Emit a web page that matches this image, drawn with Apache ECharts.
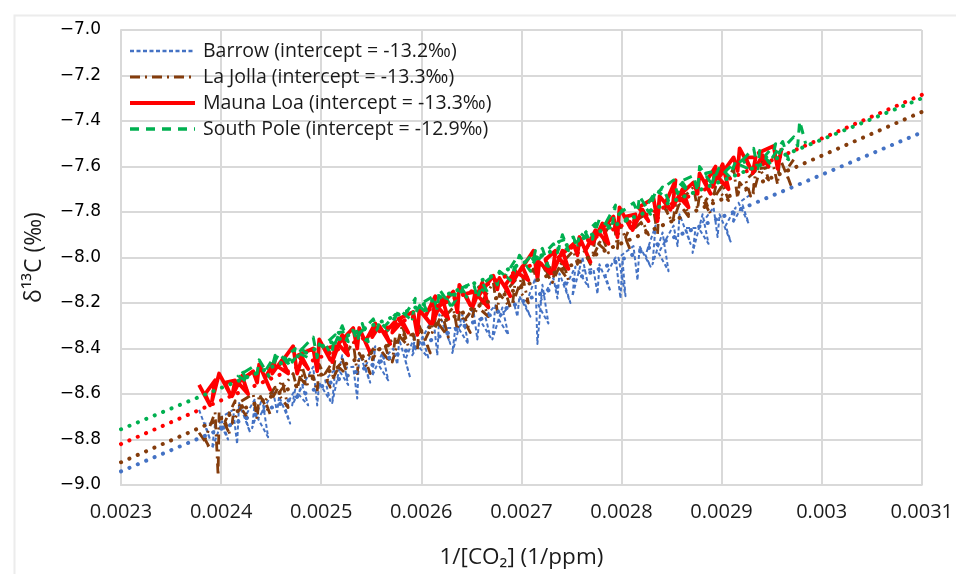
<!DOCTYPE html>
<html>
<head>
<meta charset="utf-8">
<script src="https://cdn.jsdelivr.net/npm/echarts@6/dist/echarts.min.js"></script>
<style>
  html, body { margin: 0; padding: 0; background: #fff; }
  #chart { width: 956px; height: 574px; }
</style>
</head>
<body>
<div id="chart"></div>
<script>
// observations, [1/CO2, d13C]
const barrow = [
  [0.002378,-8.67],[0.002389,-8.80],[0.002384,-8.73],[0.002394,-8.73],[0.002391,-8.84],
  [0.002401,-8.72],[0.002407,-8.80],[0.002397,-8.71],[0.002412,-8.67],[0.002416,-8.82],
  [0.002418,-8.64],[0.002429,-8.77],[0.002424,-8.70],[0.002434,-8.62],[0.002431,-8.75],
  [0.002441,-8.62],[0.002447,-8.79],[0.002437,-8.71],[0.002452,-8.59],[0.002456,-8.68],
  [0.002458,-8.61],[0.002469,-8.73],[0.002464,-8.66],[0.002474,-8.58],[0.002471,-8.65],
  [0.002481,-8.56],[0.002487,-8.65],[0.002477,-8.60],[0.002492,-8.48],[0.002496,-8.65],
  [0.002498,-8.55],[0.002509,-8.63],[0.002504,-8.54],[0.002514,-8.49],[0.002511,-8.64],
  [0.002521,-8.43],[0.002527,-8.56],[0.002517,-8.49],[0.002532,-8.48],[0.002536,-8.62],
  [0.002538,-8.42],[0.002549,-8.55],[0.002544,-8.48],[0.002554,-8.39],[0.002551,-8.52],
  [0.002561,-8.42],[0.002567,-8.54],[0.002557,-8.47],[0.002572,-8.40],[0.002576,-8.47],
  [0.002578,-8.36],[0.002589,-8.53],[0.002584,-8.45],[0.002594,-8.34],[0.002591,-8.43],
  [0.002601,-8.35],[0.002607,-8.44],[0.002597,-8.39],[0.002612,-8.26],[0.002616,-8.43],
  [0.002618,-8.25],[0.002629,-8.38],[0.002624,-8.31],[0.002634,-8.31],[0.002631,-8.42],
  [0.002641,-8.25],[0.002647,-8.38],[0.002637,-8.31],[0.002652,-8.23],[0.002656,-8.36],
  [0.002658,-8.27],[0.002669,-8.35],[0.002664,-8.26],[0.002674,-8.21],[0.002671,-8.36],
  [0.002681,-8.22],[0.002687,-8.34],[0.002677,-8.27],[0.002692,-8.19],[0.002696,-8.26],
  [0.002698,-8.17],[0.002709,-8.26],[0.002704,-8.21],[0.002714,-8.09],[0.002716,-8.38],
  [0.002721,-8.12],[0.002727,-8.29],[0.002717,-8.21],[0.002732,-8.09],[0.002736,-8.18],
  [0.002738,-8.07],[0.002749,-8.20],[0.002744,-8.13],[0.002754,-8.04],[0.002751,-8.17],
  [0.002761,-8.00],[0.002767,-8.13],[0.002757,-8.06],[0.002772,-8.05],[0.002776,-8.16],
  [0.002778,-8.03],[0.002789,-8.15],[0.002784,-8.08],[0.002794,-8.00],[0.002799,-8.18],
  [0.002801,-8.01],[0.002804,-8.17],[0.002797,-8.00],[0.002812,-7.95],[0.002816,-8.10],
  [0.002818,-7.95],[0.002829,-8.04],[0.002824,-7.99],[0.002834,-7.86],[0.002831,-8.03],
  [0.002841,-7.89],[0.002847,-8.06],[0.002837,-7.98],[0.002852,-7.86],[0.002856,-7.95],
  [0.002858,-7.81],[0.002869,-7.94],[0.002864,-7.87],[0.002874,-7.87],[0.002871,-7.98],
  [0.002881,-7.81],[0.002887,-7.94],[0.002877,-7.87],[0.002892,-7.78],[0.002896,-7.91],
  [0.002898,-7.81],[0.002909,-7.93],[0.002904,-7.86],[0.002914,-7.78],[0.002911,-7.85],
  [0.002921,-7.77],[0.002927,-7.85],[0.002917,-7.76],[0.002930,-7.72]
];
const laJolla = [
  [0.002378,-8.77],[0.002389,-8.84],[0.002384,-8.80],[0.002394,-8.68],[0.002397,-8.96],
  [0.002398,-8.68],[0.002409,-8.78],[0.002404,-8.72],[0.002414,-8.63],[0.002411,-8.73],
  [0.002421,-8.65],[0.002427,-8.71],[0.002417,-8.64],[0.002432,-8.60],[0.002436,-8.71],
  [0.002438,-8.60],[0.002449,-8.69],[0.002444,-8.63],[0.002454,-8.57],[0.002451,-8.62],
  [0.002461,-8.54],[0.002467,-8.66],[0.002457,-8.60],[0.002472,-8.51],[0.002476,-8.58],
  [0.002481,-8.48],[0.002487,-8.57],[0.002477,-8.52],[0.002492,-8.52],[0.002496,-8.59],
  [0.002498,-8.47],[0.002509,-8.57],[0.002504,-8.51],[0.002514,-8.44],[0.002511,-8.54],
  [0.002521,-8.45],[0.002527,-8.52],[0.002517,-8.48],[0.002532,-8.37],[0.002536,-8.51],
  [0.002538,-8.42],[0.002549,-8.51],[0.002544,-8.45],[0.002554,-8.39],[0.002551,-8.45],
  [0.002558,-8.40],[0.002569,-8.46],[0.002564,-8.39],[0.002574,-8.35],[0.002571,-8.46],
  [0.002581,-8.30],[0.002587,-8.39],[0.002577,-8.34],[0.002592,-8.34],[0.002596,-8.41],
  [0.002598,-8.30],[0.002609,-8.42],[0.002604,-8.36],[0.002614,-8.27],[0.002611,-8.33],
  [0.002621,-8.25],[0.002627,-8.35],[0.002617,-8.29],[0.002632,-8.22],[0.002636,-8.32],
  [0.002638,-8.24],[0.002649,-8.33],[0.002644,-8.27],[0.002654,-8.21],[0.002651,-8.26],
  [0.002661,-8.19],[0.002667,-8.26],[0.002657,-8.22],[0.002672,-8.11],[0.002676,-8.24],
  [0.002678,-8.16],[0.002689,-8.22],[0.002684,-8.15],[0.002694,-8.10],[0.002691,-8.21],
  [0.002701,-8.08],[0.002707,-8.20],[0.002697,-8.14],[0.002712,-8.05],[0.002716,-8.11],
  [0.002718,-8.01],[0.002729,-8.10],[0.002724,-8.05],[0.002734,-8.04],[0.002731,-8.11],
  [0.002741,-8.01],[0.002747,-8.10],[0.002737,-8.04],[0.002752,-7.97],[0.002756,-8.03],
  [0.002758,-7.93],[0.002769,-8.03],[0.002764,-7.97],[0.002774,-7.90],[0.002771,-8.00],
  [0.002781,-7.91],[0.002787,-7.98],[0.002777,-7.94],[0.002792,-7.83],[0.002796,-7.96],
  [0.002798,-7.85],[0.002809,-7.97],[0.002804,-7.91],[0.002814,-7.82],[0.002811,-7.88],
  [0.002821,-7.84],[0.002827,-7.90],[0.002817,-7.83],[0.002832,-7.79],[0.002836,-7.90],
  [0.002838,-7.74],[0.002849,-7.83],[0.002844,-7.78],[0.002854,-7.77],[0.002851,-7.85],
  [0.002861,-7.72],[0.002867,-7.82],[0.002857,-7.76],[0.002872,-7.69],[0.002876,-7.79],
  [0.002878,-7.72],[0.002889,-7.81],[0.002884,-7.75],[0.002894,-7.69],[0.002891,-7.75],
  [0.002901,-7.68],[0.002907,-7.75],[0.002897,-7.71],[0.002912,-7.61],[0.002916,-7.74],
  [0.002918,-7.67],[0.002929,-7.73],[0.002924,-7.66],[0.002934,-7.62],[0.002931,-7.73],
  [0.002941,-7.57],[0.002947,-7.66],[0.002937,-7.61],[0.002952,-7.60],[0.002956,-7.68],
  [0.002958,-7.56],[0.002969,-7.68],[0.002964,-7.62],[0.002972,-7.57]
];
const maunaLoa = [
  [0.002378,-8.56],[0.002389,-8.65],[0.002384,-8.60],[0.002394,-8.54],[0.002391,-8.63],
  [0.002398,-8.51],[0.002409,-8.60],[0.002404,-8.55],[0.002414,-8.54],[0.002411,-8.61],
  [0.002421,-8.52],[0.002427,-8.60],[0.002417,-8.55],[0.002432,-8.50],[0.002436,-8.55],
  [0.002438,-8.47],[0.002449,-8.58],[0.002444,-8.53],[0.002454,-8.45],[0.002451,-8.51],
  [0.002461,-8.45],[0.002467,-8.51],[0.002457,-8.48],[0.002472,-8.39],[0.002476,-8.51],
  [0.002481,-8.44],[0.002487,-8.49],[0.002477,-8.43],[0.002492,-8.40],[0.002496,-8.50],
  [0.002498,-8.36],[0.002509,-8.45],[0.002504,-8.40],[0.002514,-8.39],[0.002511,-8.46],
  [0.002521,-8.34],[0.002527,-8.43],[0.002517,-8.38],[0.002532,-8.31],[0.002536,-8.40],
  [0.002538,-8.31],[0.002549,-8.42],[0.002544,-8.37],[0.002554,-8.29],[0.002551,-8.35],
  [0.002558,-8.30],[0.002569,-8.38],[0.002564,-8.33],[0.002574,-8.28],[0.002571,-8.33],
  [0.002581,-8.28],[0.002587,-8.33],[0.002577,-8.27],[0.002592,-8.24],[0.002596,-8.34],
  [0.002598,-8.23],[0.002609,-8.29],[0.002604,-8.26],[0.002614,-8.17],[0.002611,-8.29],
  [0.002621,-8.18],[0.002627,-8.27],[0.002617,-8.22],[0.002632,-8.15],[0.002636,-8.24],
  [0.002638,-8.12],[0.002649,-8.21],[0.002644,-8.16],[0.002654,-8.15],[0.002651,-8.22],
  [0.002661,-8.11],[0.002667,-8.22],[0.002657,-8.17],[0.002672,-8.08],[0.002676,-8.14],
  [0.002678,-8.09],[0.002689,-8.17],[0.002684,-8.12],[0.002694,-8.06],[0.002691,-8.11],
  [0.002701,-8.04],[0.002707,-8.10],[0.002697,-8.07],[0.002712,-7.97],[0.002716,-8.09],
  [0.002718,-8.02],[0.002729,-8.07],[0.002724,-8.01],[0.002734,-7.97],[0.002731,-8.07],
  [0.002741,-7.97],[0.002747,-8.05],[0.002737,-8.00],[0.002752,-7.94],[0.002756,-7.99],
  [0.002758,-7.91],[0.002769,-8.02],[0.002764,-7.97],[0.002774,-7.88],[0.002771,-7.94],
  [0.002781,-7.85],[0.002787,-7.94],[0.002777,-7.89],[0.002792,-7.82],[0.002796,-7.91],
  [0.002798,-7.78],[0.002809,-7.87],[0.002804,-7.82],[0.002814,-7.81],[0.002811,-7.88],
  [0.002821,-7.79],[0.002827,-7.84],[0.002817,-7.78],[0.002832,-7.74],[0.002836,-7.84],
  [0.002838,-7.73],[0.002849,-7.79],[0.002844,-7.76],[0.002854,-7.66],[0.002851,-7.78],
  [0.002861,-7.70],[0.002867,-7.78],[0.002857,-7.73],[0.002872,-7.67],[0.002876,-7.72],
  [0.002878,-7.63],[0.002889,-7.72],[0.002884,-7.67],[0.002894,-7.60],[0.002891,-7.69],
  [0.002901,-7.59],[0.002907,-7.70],[0.002897,-7.65],[0.002912,-7.56],[0.002916,-7.62],
  [0.002918,-7.52],[0.002929,-7.61],[0.002924,-7.56],[0.002934,-7.56],[0.002931,-7.63],
  [0.002941,-7.55],[0.002947,-7.60],[0.002937,-7.54],[0.002952,-7.51],[0.002956,-7.61],
  [0.002960,-7.52]
];
const southPole = [
  [0.002421,-8.50],[0.002427,-8.55],[0.002417,-8.52],[0.002432,-8.48],[0.002436,-8.51],
  [0.002438,-8.45],[0.002449,-8.53],[0.002444,-8.50],[0.002454,-8.43],[0.002451,-8.48],
  [0.002458,-8.42],[0.002469,-8.48],[0.002464,-8.44],[0.002474,-8.40],[0.002471,-8.46],
  [0.002481,-8.40],[0.002487,-8.44],[0.002477,-8.42],[0.002492,-8.35],[0.002496,-8.44],
  [0.002498,-8.38],[0.002509,-8.42],[0.002504,-8.38],[0.002514,-8.34],[0.002511,-8.41],
  [0.002521,-8.30],[0.002527,-8.37],[0.002517,-8.33],[0.002532,-8.32],[0.002536,-8.37],
  [0.002541,-8.29],[0.002547,-8.37],[0.002537,-8.34],[0.002552,-8.27],[0.002556,-8.32],
  [0.002558,-8.28],[0.002569,-8.33],[0.002564,-8.30],[0.002574,-8.25],[0.002571,-8.29],
  [0.002578,-8.23],[0.002589,-8.27],[0.002584,-8.25],[0.002594,-8.18],[0.002591,-8.27],
  [0.002601,-8.19],[0.002607,-8.25],[0.002597,-8.21],[0.002612,-8.17],[0.002616,-8.23],
  [0.002618,-8.14],[0.002629,-8.21],[0.002624,-8.17],[0.002634,-8.16],[0.002631,-8.21],
  [0.002641,-8.14],[0.002647,-8.18],[0.002637,-8.14],[0.002652,-8.11],[0.002656,-8.18],
  [0.002661,-8.11],[0.002667,-8.16],[0.002657,-8.13],[0.002672,-8.08],[0.002676,-8.12],
  [0.002678,-8.06],[0.002689,-8.10],[0.002684,-8.08],[0.002694,-8.01],[0.002691,-8.09],
  [0.002698,-7.99],[0.002709,-8.06],[0.002704,-8.02],[0.002714,-7.97],[0.002711,-8.03],
  [0.002721,-7.96],[0.002727,-8.04],[0.002717,-8.01],[0.002732,-7.94],[0.002736,-7.98],
  [0.002741,-7.90],[0.002747,-7.97],[0.002737,-7.93],[0.002752,-7.91],[0.002756,-7.96],
  [0.002758,-7.89],[0.002769,-7.93],[0.002764,-7.89],[0.002774,-7.85],[0.002771,-7.92],
  [0.002778,-7.83],[0.002789,-7.87],[0.002784,-7.85],[0.002794,-7.77],[0.002791,-7.85],
  [0.002801,-7.79],[0.002807,-7.84],[0.002797,-7.81],[0.002812,-7.76],[0.002816,-7.80],
  [0.002818,-7.73],[0.002829,-7.81],[0.002824,-7.78],[0.002834,-7.71],[0.002831,-7.75],
  [0.002841,-7.69],[0.002847,-7.75],[0.002837,-7.71],[0.002852,-7.66],[0.002856,-7.72],
  [0.002861,-7.67],[0.002867,-7.71],[0.002857,-7.67],[0.002872,-7.64],[0.002876,-7.71],
  [0.002878,-7.60],[0.002889,-7.67],[0.002884,-7.63],[0.002894,-7.62],[0.002891,-7.67],
  [0.002898,-7.60],[0.002909,-7.65],[0.002904,-7.62],[0.002914,-7.58],[0.002911,-7.61],
  [0.002921,-7.57],[0.002927,-7.61],[0.002917,-7.59],[0.002932,-7.52],[0.002936,-7.61],
  [0.002938,-7.53],[0.002949,-7.59],[0.002944,-7.55],[0.002954,-7.50],[0.002951,-7.56],
  [0.002961,-7.49],[0.002967,-7.57],[0.002957,-7.54],[0.002972,-7.47],[0.002976,-7.51],
  [0.002978,-7.40],[0.002984,-7.50]
];

// linear trendlines, end points at x = 0.0023 and 0.0031
const trendX = [0.0023, 0.0031];
const barrowFit = [-8.94, -7.45];
const laJollaFit = [-8.90, -7.36];
const maunaLoaFit = [-8.82, -7.285];
const southPoleFit = [-8.755, -7.30];

const names = [
  'Barrow (intercept = -13.2‰)',
  'La Jolla (intercept = -13.3‰)',
  'Mauna Loa (intercept = -13.3‰)',
  'South Pole (intercept = -12.9‰)'
];
const colors = ['#4472C4', '#843C0C', '#FF0000', '#00B050'];
const widths = [2, 2.8, 3.8, 3];
const dashes = [[4, 2.5], [10, 5, 2, 5], 'solid', [9, 7]];

const chart = echarts.init(document.getElementById('chart'));

function dataLine(i, data) {
  return {
    name: names[i], type: 'line', data: data,
    symbol: 'none', showSymbol: false,
    lineStyle: { color: colors[i], width: widths[i], type: dashes[i], cap: 'butt', join: 'round' },
    itemStyle: { color: colors[i] },
    animation: false, silent: true
  };
}
function fitLine(ys, color) {
  return {
    type: 'line',
    data: trendX.map((x, i) => [x, ys[i]]),
    symbol: 'none', showSymbol: false,
    lineStyle: { color: color, width: 4, type: [0.1, 9], cap: 'round' },
    animation: false, silent: true
  };
}

const option = {
  backgroundColor: '#fff',
  animation: false,
  graphic: [{
    type: 'rect', left: 12, top: 13, silent: true,
    shape: { width: 950, height: 570 },
    style: { fill: 'none', stroke: '#ececec', lineWidth: 2 }
  }],
  grid: { left: 121, right: 27, top: 30, bottom: 88 },
  legend: {
    orient: 'vertical', left: 123, top: 36,
    itemWidth: 65, itemHeight: 14, itemGap: 6,
    data: names.map((n, i) => ({
      name: n,
      itemStyle: { opacity: 0 },
      lineStyle: { color: colors[i], width: i === 2 ? 4 : widths[i] + 0.3, type: dashes[i] }
    })),
    textStyle: { fontFamily: 'Open Sans', fontSize: 19.5, color: '#1a1a1a', lineHeight: 20, padding: [0, 0, 0, 3] }
  },
  xAxis: {
    type: 'value', min: 0.0023, max: 0.0031, interval: 0.0001,
    name: '1/[CO₂] (1/ppm)', nameLocation: 'middle', nameGap: 61,
    nameTextStyle: { fontFamily: 'Open Sans', fontSize: 22.5, color: '#1a1a1a' },
    axisLine: { show: true, lineStyle: { color: '#d9d9d9', width: 2 } },
    axisTick: { show: false },
    axisLabel: {
      margin: 17, fontFamily: 'Open Sans', fontSize: 20, color: '#1a1a1a',
      formatter: v => String(parseFloat(v.toFixed(4)))
    },
    splitLine: { show: true, lineStyle: { color: '#d9d9d9', width: 2 } }
  },
  yAxis: {
    type: 'value', min: -9, max: -7, interval: 0.2,
    name: 'δ¹³C (‰)', nameLocation: 'middle', nameGap: 75, nameRotate: 90,
    nameTextStyle: { fontFamily: 'Open Sans', fontSize: 23, color: '#1a1a1a' },
    axisLine: { show: true, lineStyle: { color: '#d9d9d9', width: 2 } },
    axisTick: { show: false },
    axisLabel: {
      margin: 20, fontFamily: 'DejaVu Sans', fontSize: 17, color: '#000',
      formatter: v => v.toFixed(1).replace('-', '−')
    },
    splitLine: { show: true, lineStyle: { color: '#d9d9d9', width: 2 } }
  },
  series: [
    dataLine(0, barrow),
    dataLine(1, laJolla),
    dataLine(2, maunaLoa),
    dataLine(3, southPole),
    fitLine(barrowFit, colors[0]),
    fitLine(laJollaFit, colors[1]),
    fitLine(maunaLoaFit, colors[2]),
    fitLine(southPoleFit, colors[3])
  ]
};
chart.setOption(option);
</script>
</body>
</html>
